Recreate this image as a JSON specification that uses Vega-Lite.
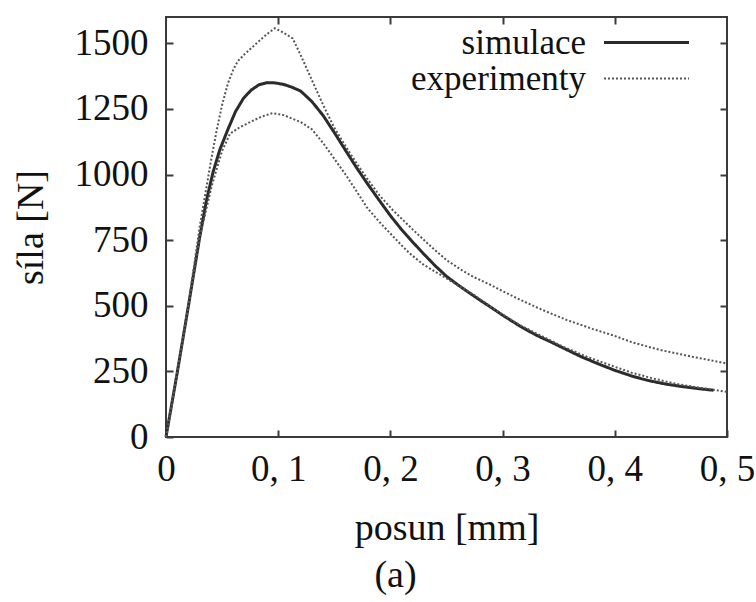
{
  "$schema": "https://vega.github.io/schema/vega-lite/v6.json",
  "width": 561,
  "height": 420,
  "autosize": {"type": "none"},
  "padding": {"left": 166, "top": 17, "right": 29, "bottom": 165},
  "background": "white",
  "config": {
    "font": "Liberation Serif, DejaVu Serif, serif",
    "view": {"stroke": "#3a3a3a", "strokeWidth": 2},
    "axis": {"grid": false, "domain": false, "tickColor": "#3a3a3a", "tickWidth": 2, "tickSize": -7, "labelColor": "#111", "titleColor": "#111", "labelFont": "Liberation Serif, DejaVu Serif, serif", "titleFont": "Liberation Serif, DejaVu Serif, serif", "titleFontWeight": "normal"},
    "legend": {"symbolSize": 803, "symbolType": "M-3,0H3", "labelFontSize": 35, "labelFont": "Liberation Serif, DejaVu Serif, serif", "labelColor": "#111", "labelAlign": "right", "labelOffset": -78, "labelLimit": 400, "padding": 0, "rowPadding": -3, "title": null}
  },
  "title": {"text": "(a)", "orient": "bottom", "anchor": "middle", "frame": "group", "dx": -51, "offset": 10, "fontSize": 38, "fontWeight": "normal", "font": "Liberation Serif, DejaVu Serif, serif", "color": "#111"},
  "data": {"values": [
    {"run": "sim", "series": "simulace", "posun": 0, "sila": 0},
    {"run": "sim", "series": "simulace", "posun": 0.01, "sila": 245},
    {"run": "sim", "series": "simulace", "posun": 0.02, "sila": 500},
    {"run": "sim", "series": "simulace", "posun": 0.03, "sila": 760},
    {"run": "sim", "series": "simulace", "posun": 0.036, "sila": 900},
    {"run": "sim", "series": "simulace", "posun": 0.042, "sila": 1010},
    {"run": "sim", "series": "simulace", "posun": 0.048, "sila": 1095},
    {"run": "sim", "series": "simulace", "posun": 0.055, "sila": 1170},
    {"run": "sim", "series": "simulace", "posun": 0.062, "sila": 1240},
    {"run": "sim", "series": "simulace", "posun": 0.069, "sila": 1290},
    {"run": "sim", "series": "simulace", "posun": 0.076, "sila": 1322},
    {"run": "sim", "series": "simulace", "posun": 0.083, "sila": 1342},
    {"run": "sim", "series": "simulace", "posun": 0.09, "sila": 1350},
    {"run": "sim", "series": "simulace", "posun": 0.097, "sila": 1349},
    {"run": "sim", "series": "simulace", "posun": 0.105, "sila": 1343},
    {"run": "sim", "series": "simulace", "posun": 0.112, "sila": 1333},
    {"run": "sim", "series": "simulace", "posun": 0.12, "sila": 1318},
    {"run": "sim", "series": "simulace", "posun": 0.13, "sila": 1278},
    {"run": "sim", "series": "simulace", "posun": 0.14, "sila": 1225},
    {"run": "sim", "series": "simulace", "posun": 0.15, "sila": 1160},
    {"run": "sim", "series": "simulace", "posun": 0.16, "sila": 1092},
    {"run": "sim", "series": "simulace", "posun": 0.17, "sila": 1025},
    {"run": "sim", "series": "simulace", "posun": 0.18, "sila": 962},
    {"run": "sim", "series": "simulace", "posun": 0.19, "sila": 902},
    {"run": "sim", "series": "simulace", "posun": 0.2, "sila": 843},
    {"run": "sim", "series": "simulace", "posun": 0.21, "sila": 790},
    {"run": "sim", "series": "simulace", "posun": 0.22, "sila": 742},
    {"run": "sim", "series": "simulace", "posun": 0.23, "sila": 696},
    {"run": "sim", "series": "simulace", "posun": 0.24, "sila": 652},
    {"run": "sim", "series": "simulace", "posun": 0.25, "sila": 612},
    {"run": "sim", "series": "simulace", "posun": 0.26, "sila": 580},
    {"run": "sim", "series": "simulace", "posun": 0.27, "sila": 550},
    {"run": "sim", "series": "simulace", "posun": 0.28, "sila": 521},
    {"run": "sim", "series": "simulace", "posun": 0.29, "sila": 493},
    {"run": "sim", "series": "simulace", "posun": 0.3, "sila": 464},
    {"run": "sim", "series": "simulace", "posun": 0.316, "sila": 421},
    {"run": "sim", "series": "simulace", "posun": 0.33, "sila": 388},
    {"run": "sim", "series": "simulace", "posun": 0.345, "sila": 358},
    {"run": "sim", "series": "simulace", "posun": 0.357, "sila": 333},
    {"run": "sim", "series": "simulace", "posun": 0.37, "sila": 306},
    {"run": "sim", "series": "simulace", "posun": 0.385, "sila": 279},
    {"run": "sim", "series": "simulace", "posun": 0.4, "sila": 254},
    {"run": "sim", "series": "simulace", "posun": 0.416, "sila": 231},
    {"run": "sim", "series": "simulace", "posun": 0.43, "sila": 215},
    {"run": "sim", "series": "simulace", "posun": 0.445, "sila": 202},
    {"run": "sim", "series": "simulace", "posun": 0.46, "sila": 192},
    {"run": "sim", "series": "simulace", "posun": 0.475, "sila": 184},
    {"run": "sim", "series": "simulace", "posun": 0.488, "sila": 178},
    {"run": "exp1", "series": "experimenty", "posun": 0, "sila": 0},
    {"run": "exp1", "series": "experimenty", "posun": 0.01, "sila": 245},
    {"run": "exp1", "series": "experimenty", "posun": 0.02, "sila": 505},
    {"run": "exp1", "series": "experimenty", "posun": 0.03, "sila": 800},
    {"run": "exp1", "series": "experimenty", "posun": 0.035, "sila": 925},
    {"run": "exp1", "series": "experimenty", "posun": 0.04, "sila": 1050},
    {"run": "exp1", "series": "experimenty", "posun": 0.045, "sila": 1165},
    {"run": "exp1", "series": "experimenty", "posun": 0.05, "sila": 1265},
    {"run": "exp1", "series": "experimenty", "posun": 0.055, "sila": 1345},
    {"run": "exp1", "series": "experimenty", "posun": 0.06, "sila": 1400},
    {"run": "exp1", "series": "experimenty", "posun": 0.064, "sila": 1432},
    {"run": "exp1", "series": "experimenty", "posun": 0.07, "sila": 1458},
    {"run": "exp1", "series": "experimenty", "posun": 0.08, "sila": 1497},
    {"run": "exp1", "series": "experimenty", "posun": 0.09, "sila": 1535},
    {"run": "exp1", "series": "experimenty", "posun": 0.097, "sila": 1557},
    {"run": "exp1", "series": "experimenty", "posun": 0.105, "sila": 1540},
    {"run": "exp1", "series": "experimenty", "posun": 0.113, "sila": 1518},
    {"run": "exp1", "series": "experimenty", "posun": 0.12, "sila": 1455},
    {"run": "exp1", "series": "experimenty", "posun": 0.13, "sila": 1360},
    {"run": "exp1", "series": "experimenty", "posun": 0.14, "sila": 1265},
    {"run": "exp1", "series": "experimenty", "posun": 0.15, "sila": 1178},
    {"run": "exp1", "series": "experimenty", "posun": 0.16, "sila": 1108},
    {"run": "exp1", "series": "experimenty", "posun": 0.17, "sila": 1042},
    {"run": "exp1", "series": "experimenty", "posun": 0.18, "sila": 980},
    {"run": "exp1", "series": "experimenty", "posun": 0.19, "sila": 922},
    {"run": "exp1", "series": "experimenty", "posun": 0.202, "sila": 865},
    {"run": "exp1", "series": "experimenty", "posun": 0.22, "sila": 790},
    {"run": "exp1", "series": "experimenty", "posun": 0.235, "sila": 730},
    {"run": "exp1", "series": "experimenty", "posun": 0.25, "sila": 674},
    {"run": "exp1", "series": "experimenty", "posun": 0.262, "sila": 640},
    {"run": "exp1", "series": "experimenty", "posun": 0.274, "sila": 610},
    {"run": "exp1", "series": "experimenty", "posun": 0.29, "sila": 578},
    {"run": "exp1", "series": "experimenty", "posun": 0.298, "sila": 560},
    {"run": "exp1", "series": "experimenty", "posun": 0.316, "sila": 522},
    {"run": "exp1", "series": "experimenty", "posun": 0.335, "sila": 485},
    {"run": "exp1", "series": "experimenty", "posun": 0.357, "sila": 446},
    {"run": "exp1", "series": "experimenty", "posun": 0.38, "sila": 412},
    {"run": "exp1", "series": "experimenty", "posun": 0.4, "sila": 385},
    {"run": "exp1", "series": "experimenty", "posun": 0.416, "sila": 360},
    {"run": "exp1", "series": "experimenty", "posun": 0.44, "sila": 332},
    {"run": "exp1", "series": "experimenty", "posun": 0.47, "sila": 305},
    {"run": "exp1", "series": "experimenty", "posun": 0.5, "sila": 280},
    {"run": "exp2", "series": "experimenty", "posun": 0, "sila": 0},
    {"run": "exp2", "series": "experimenty", "posun": 0.01, "sila": 245},
    {"run": "exp2", "series": "experimenty", "posun": 0.02, "sila": 500},
    {"run": "exp2", "series": "experimenty", "posun": 0.03, "sila": 760},
    {"run": "exp2", "series": "experimenty", "posun": 0.041, "sila": 960},
    {"run": "exp2", "series": "experimenty", "posun": 0.05, "sila": 1090},
    {"run": "exp2", "series": "experimenty", "posun": 0.057, "sila": 1155},
    {"run": "exp2", "series": "experimenty", "posun": 0.065, "sila": 1178},
    {"run": "exp2", "series": "experimenty", "posun": 0.075, "sila": 1200},
    {"run": "exp2", "series": "experimenty", "posun": 0.085, "sila": 1220},
    {"run": "exp2", "series": "experimenty", "posun": 0.095, "sila": 1234},
    {"run": "exp2", "series": "experimenty", "posun": 0.105, "sila": 1226},
    {"run": "exp2", "series": "experimenty", "posun": 0.12, "sila": 1200},
    {"run": "exp2", "series": "experimenty", "posun": 0.13, "sila": 1172},
    {"run": "exp2", "series": "experimenty", "posun": 0.14, "sila": 1120},
    {"run": "exp2", "series": "experimenty", "posun": 0.15, "sila": 1060},
    {"run": "exp2", "series": "experimenty", "posun": 0.16, "sila": 1000},
    {"run": "exp2", "series": "experimenty", "posun": 0.17, "sila": 935},
    {"run": "exp2", "series": "experimenty", "posun": 0.179, "sila": 875},
    {"run": "exp2", "series": "experimenty", "posun": 0.19, "sila": 820},
    {"run": "exp2", "series": "experimenty", "posun": 0.2, "sila": 775},
    {"run": "exp2", "series": "experimenty", "posun": 0.21, "sila": 730},
    {"run": "exp2", "series": "experimenty", "posun": 0.217, "sila": 700},
    {"run": "exp2", "series": "experimenty", "posun": 0.23, "sila": 655},
    {"run": "exp2", "series": "experimenty", "posun": 0.247, "sila": 612},
    {"run": "exp2", "series": "experimenty", "posun": 0.26, "sila": 578},
    {"run": "exp2", "series": "experimenty", "posun": 0.275, "sila": 540},
    {"run": "exp2", "series": "experimenty", "posun": 0.29, "sila": 495},
    {"run": "exp2", "series": "experimenty", "posun": 0.3, "sila": 466},
    {"run": "exp2", "series": "experimenty", "posun": 0.316, "sila": 425},
    {"run": "exp2", "series": "experimenty", "posun": 0.335, "sila": 384},
    {"run": "exp2", "series": "experimenty", "posun": 0.355, "sila": 342},
    {"run": "exp2", "series": "experimenty", "posun": 0.375, "sila": 306},
    {"run": "exp2", "series": "experimenty", "posun": 0.395, "sila": 275},
    {"run": "exp2", "series": "experimenty", "posun": 0.415, "sila": 245},
    {"run": "exp2", "series": "experimenty", "posun": 0.435, "sila": 222},
    {"run": "exp2", "series": "experimenty", "posun": 0.455, "sila": 202},
    {"run": "exp2", "series": "experimenty", "posun": 0.475, "sila": 188},
    {"run": "exp2", "series": "experimenty", "posun": 0.5, "sila": 172}
  ]},
  "resolve": {"axis": {"x": "independent", "y": "independent"}},
  "layer": [
    {
      "mark": {"type": "line", "strokeCap": "butt"},
      "encoding": {
        "x": {"field": "posun", "type": "quantitative", "scale": {"domain": [0, 0.5], "nice": false, "zero": false},
          "axis": {"orient": "bottom", "values": [0, 0.1, 0.2, 0.3, 0.4, 0.5], "labelFlush": false, "labelFontSize": 37, "labelPadding": 21,
            "labelExpr": "datum.value == 0 ? '0' : replace(format(datum.value, '.1f'), '.', ', ')",
            "title": "posun [mm]", "titleFontSize": 38, "titlePadding": 22}},
        "y": {"field": "sila", "type": "quantitative", "scale": {"domain": [0, 1600], "nice": false},
          "axis": {"orient": "left", "values": [0, 250, 500, 750, 1000, 1250, 1500], "format": "d", "labelFontSize": 37, "labelPadding": 25,
            "title": "síla [N]", "titleFontSize": 38, "titlePadding": 24}},
        "detail": {"field": "run", "type": "nominal"},
        "strokeDash": {"field": "series", "type": "nominal", "scale": {"domain": ["simulace", "experimenty"], "range": [[1, 0], [2, 2]]},
          "legend": {"orient": "none", "legendX": 463, "legendY": 8}},
        "color": {"field": "series", "type": "nominal", "scale": {"domain": ["simulace", "experimenty"], "range": ["#2b2b2b", "#555555"]},
          "legend": {"orient": "none", "legendX": 463, "legendY": 8}},
        "strokeWidth": {"field": "series", "type": "nominal", "scale": {"domain": ["simulace", "experimenty"], "range": [3, 2]},
          "legend": {"orient": "none", "legendX": 463, "legendY": 8}}
      }
    },
    {
      "mark": {"type": "point", "opacity": 0},
      "encoding": {
        "x": {"field": "posun", "type": "quantitative", "axis": {"orient": "top", "values": [0.1, 0.2, 0.3, 0.4], "labels": false, "title": null}},
        "y": {"field": "sila", "type": "quantitative", "axis": {"orient": "right", "values": [250, 500, 750, 1000, 1250, 1500], "labels": false, "title": null}}
      }
    }
  ]
}
